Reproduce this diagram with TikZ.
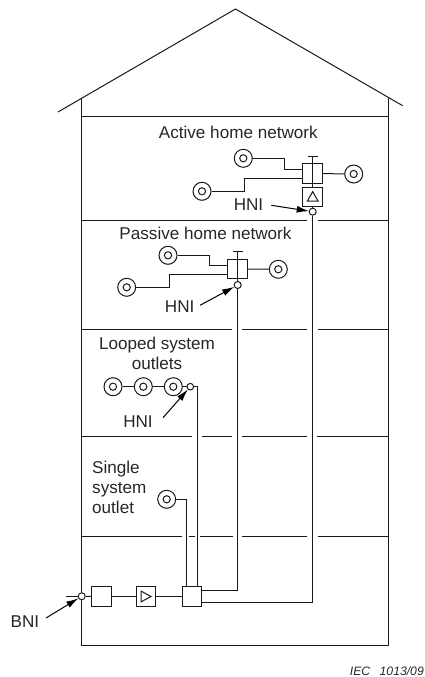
\documentclass[tikz,border=0pt]{standalone}
\usepackage{fontspec}
\setmainfont{Liberation Sans}
\usetikzlibrary{arrows.meta}
\tikzset{
  wire/.style={line width=1pt,draw=black!90},
  lbl/.style={inner sep=0pt,font=\fontsize{17.1}{20}\selectfont,text=black!85},
  outlet/.style={circle,draw=black!90,line width=1pt,minimum size=18pt,inner sep=0pt,
    path picture={\draw[line width=1pt] (path picture bounding box.center) circle (3.6pt);}},
  box/.style={rectangle,draw=black!90,line width=1pt,minimum size=19.6pt,inner sep=0pt},
  port/.style={circle,draw=black!90,fill=white,line width=1pt,minimum size=7pt,inner sep=0pt},
  ampright/.style={box,path picture={\draw[line width=1pt] ([xshift=-4.8pt,yshift=5.3pt]path picture bounding box.center) -- ([xshift=5pt]path picture bounding box.center) -- ([xshift=-4.8pt,yshift=-5.3pt]path picture bounding box.center) -- cycle;}},
  ampup/.style={box,path picture={\draw[line width=1pt] ([yshift=5.2pt]path picture bounding box.center) -- ([xshift=5.3pt,yshift=-4.2pt]path picture bounding box.center) -- ([xshift=-5.3pt,yshift=-4.2pt]path picture bounding box.center) -- cycle;}},
  pointer/.style={line width=1pt,draw=black,-{Latex[length=12pt,width=7pt]}},
}
\begin{document}
\begin{tikzpicture}[x=1pt,y=-1pt]
\useasboundingbox (0,0) rectangle (425,677);
% house
\draw[wire] (58,112) -- (235.5,9) -- (402.7,105.7);
\draw[wire] (81.7,98.5) -- (81.7,645) -- (388.3,645) -- (388.3,97.5);
\draw[wire] (81.7,116) -- (388.3,116);
\draw[wire] (81.7,220) -- (307,220) (317.5,220) -- (388.3,220);
\draw[wire] (81.7,329) -- (232,329) (241.8,329) -- (307.3,329) (318,329) -- (388.3,329);
\draw[wire] (81.7,436) -- (192,436) (202.3,436) -- (231.7,436) (242,436) -- (307,436) (317.3,436) -- (388.3,436);
\draw[wire] (81.7,536.3) -- (182.3,536.3) (189.3,536.3) -- (195,536.3) (200,536.3) -- (233,536.3) (242,536.3) -- (307,536.3) (317.5,536.3) -- (388.3,536.3);
% labels
\node[lbl] at (238.3,132) {Active home network};
\node[lbl] at (205.5,233) {Passive home network};
\node[lbl,align=center] at (157,353) {Looped system\\outlets};
\node[lbl,align=left,anchor=west] at (92,487) {Single\\system\\outlet};
\node[lbl] (hniA) at (248.5,205) {HNI};
\node[lbl] (hniP) at (179.7,306.7) {HNI};
\node[lbl] (hniL) at (138,422) {HNI};
\node[lbl] (bni) at (25,622) {BNI};
\node[inner sep=0pt,anchor=east,font=\itshape\fontsize{12.2}{14}\selectfont,text=black!85] at (424,671) {IEC\hspace{9.5pt}1013/09};
% active
\node[outlet] (a1) at (243.3,158.3) {};
\node[outlet] (a2) at (202,191.3) {};
\node[outlet] (a3) at (353.7,174) {};
\node[box] (sa) at (312.7,173.5) {};
\node[ampup] (ampa) at (312.7,196.8) {};
\node[port] (pa) at (312.7,211.7) {};
\coordinate (ta) at (312.7,156);
\draw[wire] (308,156) -- (317.7,156);
\draw[wire] (ta) -- (ampa.north);
\draw[wire] (ampa) -- (pa);
\draw[wire] (a1) -- (284,158.3) -- (284,169) -- (303,169);
\draw[wire] (a2) -- (244,191.3) -- (244,178.7) -- (303,178.7);
\draw[wire] (sa) -- (a3);
\draw[pointer] (271.3,205.3) -- (pa);
% passive
\node[outlet] (p1) at (168,255.3) {};
\node[outlet] (p2) at (126.7,287.3) {};
\node[outlet] (p3) at (278.3,269.3) {};
\node[box] (sp) at (237.7,268.9) {};
\node[port] (pp) at (237.7,285) {};
\coordinate (tp) at (237.7,251);
\draw[wire] (232.8,251) -- (242.6,251);
\draw[wire] (tp) -- (pp);
\draw[wire] (p1) -- (209,255.3) -- (209,265.3) -- (228,265.3);
\draw[wire] (p2) -- (169,287.3) -- (169,274) -- (228,274);
\draw[wire] (sp) -- (p3);
\draw[pointer] (200,305.3) -- (pp);
% looped
\node[outlet] (l1) at (113,386.7) {};
\node[outlet] (l2) at (143.3,386.7) {};
\node[outlet] (l3) at (173.3,386.7) {};
\node[port,minimum size=6.6pt] (pl) at (190.3,386.7) {};
\draw[wire] (l1) -- (l2);
\draw[wire] (l2) -- (l3);
\draw[wire] (l3) -- (pl);
\draw[pointer] (163,417.7) -- (pl);
% single
\node[outlet] (s1) at (166.7,499.3) {};
% head end
\node[box] (bx) at (101.3,596.5) {};
\node[ampright] (amp) at (146,596.5) {};
\node[box] (sw) at (191.8,596.5) {};
\node[port] (bn) at (81.7,596.3) {};
\coordinate (stub) at (66,596.3);
\draw[wire] (stub) -- (bn);
\draw[wire] (bn) -- (bx);
\draw[wire] (bx) -- (amp);
\draw[wire] (amp) -- (sw);
\draw[pointer] (46,618) -- (bn);
% risers
\draw[wire] (s1) -- (186.7,499.3) -- (186.7,586.7);
\draw[wire] (pl) -- (197.7,386.7) -- (197.7,586.7);
\draw[wire] (pp) -- (237.7,590.7) -- (201.6,590.7);
\draw[wire] (pa) -- (312.7,602.3) -- (201.6,602.3);
\end{tikzpicture}
\end{document}
